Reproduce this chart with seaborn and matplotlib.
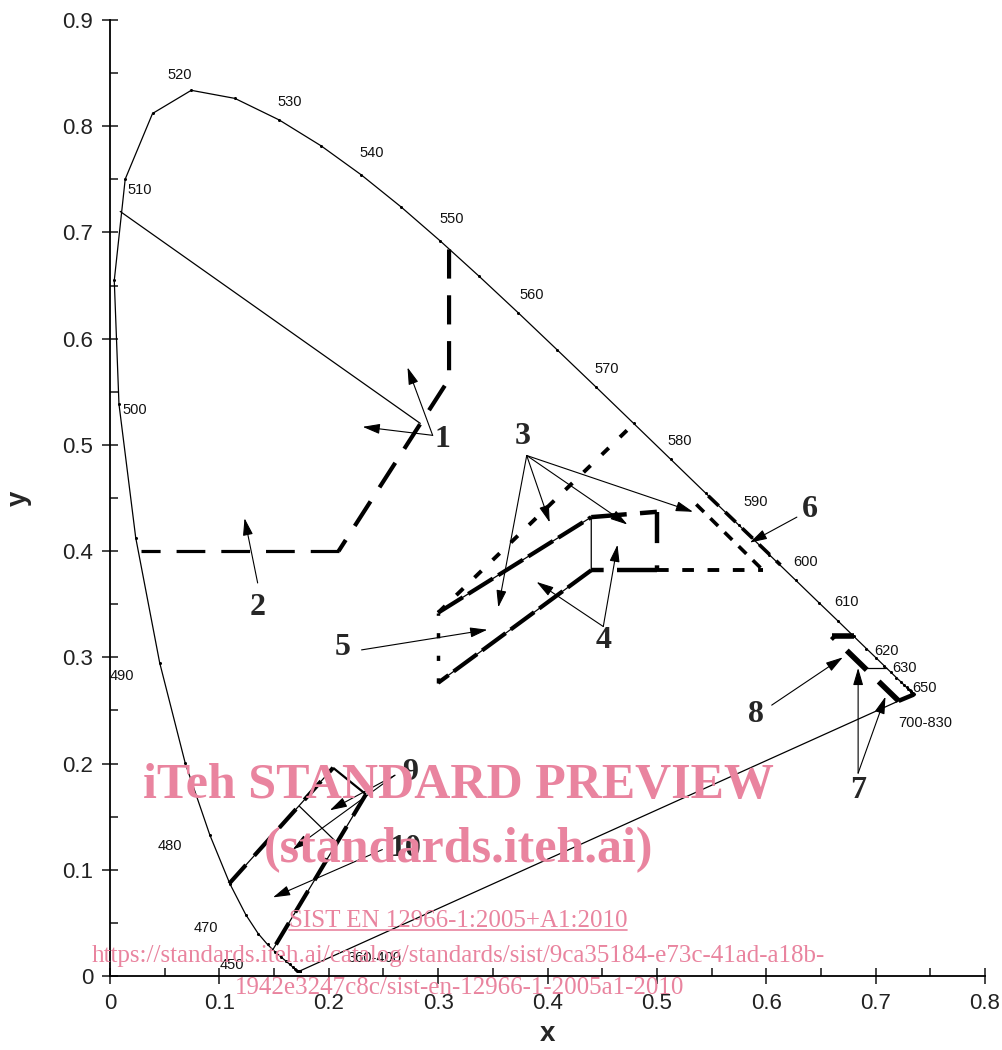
import numpy as np
import pandas as pd
import seaborn as sns
import matplotlib.pyplot as plt
from matplotlib.lines import Line2D

# CIE 1931 spectral locus, 380-700 nm in 5 nm steps
locus_nm = list(range(380, 705, 5))
locus_x = [0.1741, 0.1740, 0.1738, 0.1736, 0.1733, 0.1730, 0.1726, 0.1721, 0.1714, 0.1703,
           0.1689, 0.1669, 0.1644, 0.1611, 0.1566, 0.1510, 0.1440, 0.1355, 0.1241, 0.1096,
           0.0913, 0.0687, 0.0454, 0.0235, 0.0082, 0.0039, 0.0139, 0.0389, 0.0743, 0.1142,
           0.1547, 0.1929, 0.2296, 0.2658, 0.3016, 0.3373, 0.3731, 0.4087, 0.4441, 0.4788,
           0.5125, 0.5448, 0.5752, 0.6029, 0.6270, 0.6482, 0.6658, 0.6801, 0.6915, 0.7006,
           0.7079, 0.7140, 0.7190, 0.7230, 0.7260, 0.7283, 0.7300, 0.7311, 0.7320, 0.7327,
           0.7334, 0.7340, 0.7344, 0.7346, 0.7347]
locus_y = [0.0050, 0.0050, 0.0049, 0.0049, 0.0048, 0.0048, 0.0048, 0.0048, 0.0051, 0.0058,
           0.0069, 0.0086, 0.0109, 0.0138, 0.0177, 0.0227, 0.0297, 0.0399, 0.0578, 0.0868,
           0.1327, 0.2007, 0.2950, 0.4127, 0.5384, 0.6548, 0.7502, 0.8120, 0.8338, 0.8262,
           0.8059, 0.7816, 0.7543, 0.7243, 0.6923, 0.6589, 0.6245, 0.5896, 0.5547, 0.5202,
           0.4866, 0.4544, 0.4242, 0.3965, 0.3725, 0.3514, 0.3340, 0.3197, 0.3083, 0.2993,
           0.2920, 0.2859, 0.2809, 0.2770, 0.2740, 0.2717, 0.2700, 0.2689, 0.2680, 0.2673,
           0.2666, 0.2660, 0.2656, 0.2654, 0.2653]

# wavelength labels along the locus
wl_text = ["520", "530", "540", "550", "560", "570", "580", "590", "600", "610", "620", "630",
           "650", "700-830", "510", "500", "490", "480", "470", "450", "360-400"]
wl_x = [0.064, 0.1645, 0.2395, 0.3126, 0.386, 0.454, 0.521, 0.590, 0.636, 0.673, 0.710, 0.726,
        0.745, 0.745, 0.027, 0.023, 0.011, 0.055, 0.088, 0.1115, 0.242]
wl_y = [0.848, 0.823, 0.775, 0.713, 0.641, 0.571, 0.504, 0.446, 0.390, 0.352, 0.306, 0.290,
        0.271, 0.238, 0.740, 0.533, 0.282, 0.122, 0.045, 0.010, 0.017]

# colour boundaries (x, y)
green_c1 = [(0.009, 0.720), (0.284, 0.520), (0.209, 0.400), (0.028, 0.400)]
green_c2 = [(0.009, 0.720), (0.310, 0.684), (0.310, 0.562), (0.209, 0.400), (0.028, 0.400)]
white_c1 = [(0.300, 0.342), (0.440, 0.432), (0.440, 0.382), (0.300, 0.276)]
white_c2 = [(0.440, 0.432), (0.500, 0.437), (0.500, 0.382), (0.440, 0.382)]
area3_a = [(0.300, 0.342), (0.479, 0.520)]
area3_b = [(0.536, 0.444), (0.597, 0.382)]
area3_c = [(0.500, 0.382), (0.597, 0.382)]
yellow_edge = [(0.547, 0.452), (0.613, 0.387)]
red_c2 = [(0.660, 0.320), (0.680, 0.320), (0.735, 0.265), (0.721, 0.259)]
red_c1_bottom = [(0.690, 0.290), (0.710, 0.290)]
blue_c1 = [(0.109, 0.087), (0.173, 0.160), (0.208, 0.125), (0.149, 0.025)]
blue_c2 = [(0.109, 0.087), (0.204, 0.196), (0.234, 0.171), (0.149, 0.025)]

# numbered labels: text position, leader start, arrow tips
labels = {
    "1": ((0.3035, 0.505), (0.295, 0.509), [(0.231, 0.517), (0.272, 0.573)]),
    "2": ((0.135, 0.347), (0.135, 0.370), [(0.123, 0.431)]),
    "3": ((0.3775, 0.508), (0.381, 0.490), [(0.355, 0.347), (0.402, 0.427), (0.473, 0.425), (0.533, 0.437)]),
    "4": ((0.4516, 0.316), (0.451, 0.329), [(0.390, 0.371), (0.464, 0.406)]),
    "5": ((0.213, 0.309), (0.230, 0.307), [(0.345, 0.326)]),
    "6": ((0.640, 0.439), (0.628, 0.432), [(0.585, 0.408)]),
    "7": ((0.684, 0.175), (0.684, 0.191), [(0.684, 0.290), (0.709, 0.263)]),
    "8": ((0.591, 0.246), (0.605, 0.255), [(0.670, 0.300)]),
    "9": ((0.274, 0.192), (0.2605, 0.189), [(0.201, 0.156), (0.167, 0.119)]),
    "10": ((0.270, 0.1205), (0.249, 0.119), [(0.149, 0.074)]),
}

sns.set_style("ticks")
plt.rcParams['font.family'] = ['Liberation Sans', 'DejaVu Sans']

fig = plt.figure(figsize=(10.02, 10.5), dpi=100)
ax = fig.add_axes([110 / 1002, 74 / 1050, 875 / 1002, 956 / 1050])

df = pd.DataFrame({"x": locus_x + [locus_x[0]], "y": locus_y + [locus_y[0]]})
sns.lineplot(data=df, x="x", y="y", sort=False, estimator=None, ax=ax, color="black",
             lw=0.9, marker="o", markersize=2.2, markeredgewidth=0)


def path(pts, **kw):
    xs = [p[0] for p in pts]
    ys = [p[1] for p in pts]
    ax.plot(xs, ys, color="black", solid_capstyle="butt", dash_capstyle="butt", **kw)


# green
path(green_c1[0:2], lw=0.9)
path(green_c2[1:4], lw=3.0, ls=(0, (7, 4)))
path(green_c2[3:5], lw=2.3, ls=(0, (9, 5)))

# white
path(white_c1, lw=0.9)
path(white_c1[0:2], lw=3.0, ls=(0, (7, 1.5)))
path(white_c1[2:4], lw=3.0, ls=(0, (7, 1.5)))
path([white_c1[3], white_c1[0]], lw=2.5, ls=(0, (1.5, 5)))
path(white_c2[0:2], lw=3.2, ls=(0, (8, 3)))
path(white_c2[1:3], lw=3.2, ls=(0, (7, 5)))
path(white_c2[2:4], lw=3.2, ls=(0, (9, 3)))

# area 3 / yellow
path(area3_a, lw=2.8, ls=(0, (2.5, 4)))
path(area3_b, lw=2.6, ls=(0, (3, 2.5)))
path(area3_c, lw=2.8, ls=(0, (3, 3.5)))
path(yellow_edge, lw=2.6, ls=(0, (4, 2.5)))

# red
path(red_c2[0:2], lw=4.0)
path([red_c2[3], red_c2[0]], lw=4.0, ls=(0, (5, 3)))
path(red_c2[2:4], lw=3.2)
path(red_c1_bottom, lw=0.9)

# blue
path(blue_c1[1:3], lw=0.9)
path(blue_c2[0:2], lw=0.9)
path(blue_c2[0:2], lw=3.0, ls=(0, (6, 3)))
path(blue_c2[1:3], lw=1.6)
path(blue_c2[2:4], lw=0.9)
path(blue_c2[2:4], lw=3.0, ls=(0, (6, 3)))

for t, x, y in zip(wl_text, wl_x, wl_y):
    ax.text(x, y, t, fontsize=10.5, ha="center", va="center", color="#111111")

for name, (txt_pos, base, tips) in labels.items():
    for tip in tips:
        ax.annotate("", xy=tip, xytext=base,
                    arrowprops=dict(arrowstyle="-|>,head_length=0.75,head_width=0.22",
                                    lw=0.8, color="black", shrinkA=0, shrinkB=0,
                                    mutation_scale=14))
    ax.text(txt_pos[0], txt_pos[1], name, fontsize=23, fontweight="bold",
            family=["Liberation Serif", "DejaVu Serif"], ha="center", va="center")

ax.set_xlim(0, 0.8)
ax.set_ylim(0, 0.9)
ax.set_xticks(np.arange(0, 0.81, 0.1))
ax.set_yticks(np.arange(0, 0.91, 0.1))
ax.set_xticklabels(["0", "0.1", "0.2", "0.3", "0.4", "0.5", "0.6", "0.7", "0.8"])
ax.set_yticklabels(["0", "0.1", "0.2", "0.3", "0.4", "0.5", "0.6", "0.7", "0.8", "0.9"])
ax.set_xticks(np.arange(0.05, 0.8, 0.1), minor=True)
ax.set_yticks(np.arange(0.05, 0.9, 0.1), minor=True)
ax.tick_params(which="major", direction="inout", length=12, width=1.2, labelsize=16,
               labelcolor="#222222", pad=6)
ax.tick_params(which="minor", direction="in", length=6, width=1.2)
for s in ["top", "right"]:
    ax.spines[s].set_visible(False)
for s in ["left", "bottom"]:
    ax.spines[s].set_linewidth(1.3)
    ax.spines[s].set_color("black")
ax.set_xlabel("x", fontsize=20, fontweight="bold", labelpad=5)
ax.set_ylabel("y", fontsize=20, fontweight="bold", labelpad=22)

# watermark
pink = "#e9849f"
serif = ["Liberation Serif", "DejaVu Serif"]
fig.text(458 / 1002, 1 - 786 / 1050, "iTeh STANDARD PREVIEW", fontsize=36, fontweight="bold",
         family=serif, color=pink, ha="center", va="center", zorder=10)
fig.text(458 / 1002, 1 - 850 / 1050, "(standards.iteh.ai)", fontsize=36, fontweight="bold",
         family=serif, color=pink, ha="center", va="center", zorder=10)
sist = fig.text(458 / 1002, 1 - 921 / 1050, "SIST EN 12966-1:2005+A1:2010", fontsize=18,
                family=serif, color=pink, ha="center", va="center", zorder=10)
fig.text(458 / 1002, 1 - 956 / 1050,
         "https://standards.iteh.ai/catalog/standards/sist/9ca35184-e73c-41ad-a18b-",
         fontsize=18, family=serif, color=pink, ha="center", va="center", zorder=10)
fig.text(460 / 1002, 1 - 988 / 1050, "1942e3247c8c/sist-en-12966-1-2005a1-2010", fontsize=18,
         family=serif, color=pink, ha="center", va="center", zorder=10)

fig.canvas.draw()
bb = sist.get_window_extent().transformed(fig.transFigure.inverted())
fig.add_artist(Line2D([bb.x0, bb.x1], [bb.y0 + 0.002, bb.y0 + 0.002], color=pink, lw=1.2,
                      transform=fig.transFigure, zorder=10))

fig.savefig("out.png", dpi=100)
